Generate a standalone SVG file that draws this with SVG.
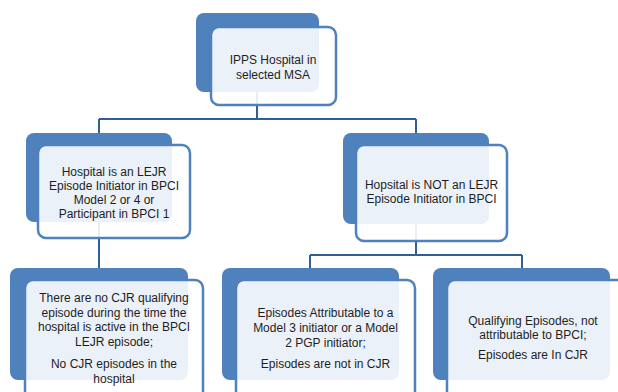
<svg xmlns="http://www.w3.org/2000/svg" width="618" height="392" viewBox="0 0 618 392">
<style>
.bk{fill:#4f81bd}
.fr{fill:#ffffff;fill-opacity:0.89;stroke:#4f81bd;stroke-width:2.5}
.cn{fill:none;stroke:#2e5f97;stroke-width:2}
text{font-family:"Liberation Sans",Arial,sans-serif;font-size:12px;fill:#1e1e1e;text-anchor:middle}
</style>
<rect width="618" height="392" fill="#ffffff"/>
<g id="connectors">
<path class="cn" d="M257,92 V119 M99,119 H416 M99,119 V133 M416,119 V133"/>
<path class="cn" d="M99,222 V268"/>
<path class="cn" d="M416,224 V255 M310,255 H522 M310,255 V268 M522,255 V268"/>
</g>
<g id="n-top">
<rect class="bk" x="196" y="13" width="123" height="79" rx="8"/>
<rect class="fr" x="211" y="27" width="125" height="78" rx="8"/>
<text x="273" y="64">IPPS Hospital in</text>
<text x="273" y="79">selected MSA</text>
</g>
<g id="n-left">
<rect class="bk" x="26" y="133" width="146" height="89" rx="8"/>
<rect class="fr" x="38" y="145" width="152" height="93" rx="8"/>
<text x="114" y="176">Hospital is an LEJR</text>
<text x="114" y="190">Episode Initiator in BPCI</text>
<text x="114" y="204">Model 2 or 4 or</text>
<text x="114" y="218">Participant in BPCI 1</text>
</g>
<g id="n-right">
<rect class="bk" x="343" y="133" width="146" height="91" rx="8"/>
<rect class="fr" x="356" y="145" width="151" height="96" rx="8"/>
<text x="431.5" y="189">Hopsital is NOT an LEJR</text>
<text x="431.5" y="203">Episode Initiator in BPCI</text>
</g>
<g id="n-l3a">
<rect class="bk" x="10" y="268" width="178" height="112" rx="8"/>
<rect class="fr" x="25" y="280" width="178" height="120" rx="8"/>
<text x="114" y="302">There are no CJR qualifying</text>
<text x="114" y="316.5">episode during the time the</text>
<text x="114" y="331">hospital is active in the BPCI</text>
<text x="114" y="346">LEJR episode;</text>
<text x="114" y="368">No CJR episodes in the</text>
<text x="114" y="383">hospital</text>
</g>
<g id="n-l3b">
<rect class="bk" x="222" y="268" width="177" height="112" rx="8"/>
<rect class="fr" x="236" y="280" width="179" height="120" rx="8"/>
<text x="325.5" y="317">Episodes Attributable to a</text>
<text x="325.5" y="332">Model 3 initiator or a Model</text>
<text x="325.5" y="347">2 PGP initiator;</text>
<text x="325.5" y="368">Episodes are not in CJR</text>
</g>
<g id="n-l3c">
<rect class="bk" x="433" y="268" width="177" height="112" rx="8"/>
<rect class="fr" x="447" y="280" width="178" height="120" rx="8"/>
<text x="533" y="325">Qualifying Episodes, not</text>
<text x="533" y="339">attributable to BPCI;</text>
<text x="533" y="359">Episodes are In CJR</text>
</g>
</svg>
